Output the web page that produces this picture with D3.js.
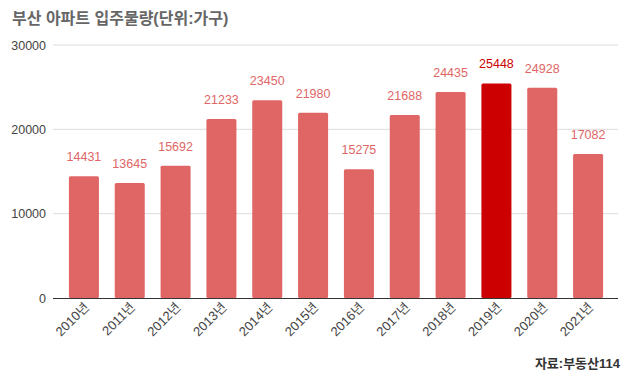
<!DOCTYPE html>
<html><head><meta charset="utf-8">
<script src="https://cdn.jsdelivr.net/npm/d3@7"></script>
<style>
body{margin:0;background:#fff;}
text{font-family:"Liberation Sans",Arial,"Noto Sans CJK KR",sans-serif;}
</style></head>
<body>
<svg id="c" width="630" height="381"></svg>
<script>
const categories = ["2010년","2011년","2012년","2013년","2014년","2015년","2016년","2017년","2018년","2019년","2020년","2021년"];
const values = [14431,13645,15692,21233,23450,21980,15275,21688,24435,25448,24928,17082];
const highlight = "2019년";
const yTicks = [0,10000,20000,30000];
const title = "부산 아파트 입주물량(단위:가구)";
const source = "자료:부동산114";

const svg = d3.select("#c");
const y = d3.scaleLinear().domain([0,30000]).range([298,45]);
const x = d3.scaleBand().domain(categories).range([61,611]).paddingInner(0.345).paddingOuter(0.1725);

// gridlines
svg.append("g").selectAll("line").data(yTicks.filter(d=>d>0)).join("line")
  .attr("x1",53).attr("x2",618).attr("y1",d=>y(d)).attr("y2",d=>y(d))
  .attr("stroke","#dcdcdc").attr("stroke-width",1);

// y labels
svg.append("g").selectAll("text").data(yTicks).join("text")
  .attr("x",46).attr("y",d=>y(d)+4.5).attr("text-anchor","end")
  .attr("font-size",12.5).attr("fill","#444").text(d=>d);

// bars
svg.append("g").selectAll("rect").data(categories).join("rect")
  .attr("x",d=>x(d)).attr("width",x.bandwidth())
  .attr("y",(d,i)=>y(values[i])).attr("height",(d,i)=>y(0)-y(values[i]))
  .attr("rx",1.5)
  .attr("fill",d=>d===highlight?"#cc0000":"#e06666");

// baseline
svg.append("line").attr("x1",53).attr("x2",618).attr("y1",y(0)+0.5).attr("y2",y(0)+0.5)
  .attr("stroke","#333").attr("stroke-width",1);

// value labels
svg.append("g").selectAll("text").data(categories).join("text")
  .attr("x",d=>x(d)+x.bandwidth()/2).attr("y",(d,i)=>y(values[i])-15)
  .attr("text-anchor","middle").attr("font-size",12.5)
  .attr("fill",d=>d===highlight?"#cc0000":"#e06666")
  .text((d,i)=>values[i]);

// x labels
svg.append("g").selectAll("text").data(categories).join("text")
  .attr("transform",d=>`translate(${x(d)+x.bandwidth()/2+6},${y(0)+10}) rotate(-45)`)
  .attr("text-anchor","end").attr("font-size",13).attr("fill","#444")
  .text(d=>d);

// title
svg.append("text").attr("x",12).attr("y",24).attr("font-size",16).attr("font-weight","bold")
  .attr("fill","#666").text(title);

// source
svg.append("text").attr("x",620).attr("y",368).attr("text-anchor","end")
  .attr("font-size",13).attr("font-weight","bold").attr("fill","#333").text(source);
</script>
</body></html>
